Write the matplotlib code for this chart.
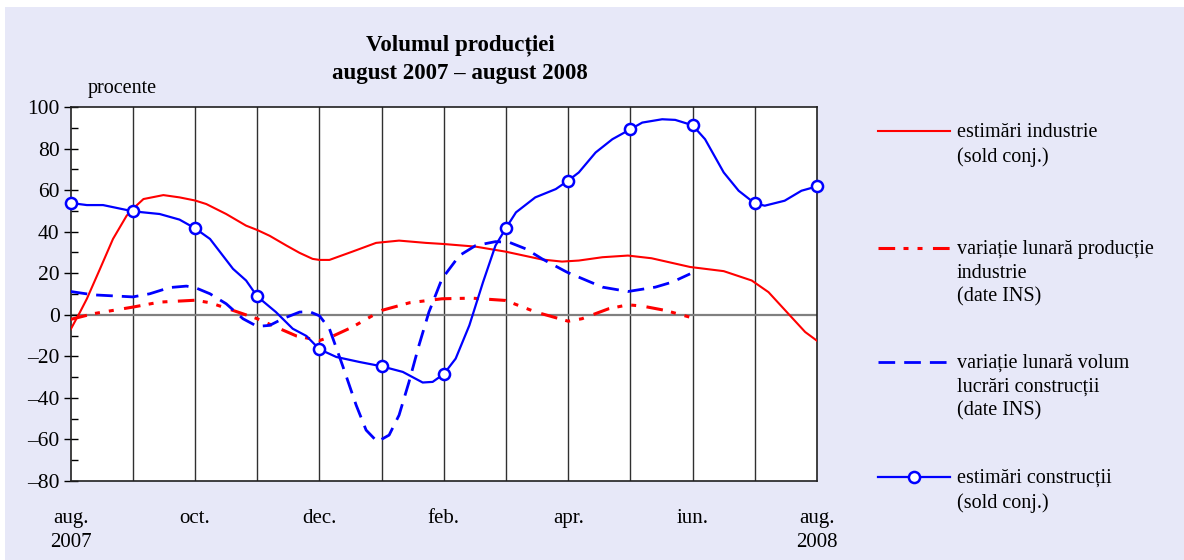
import matplotlib
matplotlib.use("Agg")
import matplotlib.pyplot as plt
from matplotlib.lines import Line2D
from matplotlib.patches import Rectangle
from matplotlib.ticker import MultipleLocator

plt.rcParams['font.family'] = ['Liberation Serif', 'DejaVu Serif']
plt.rcParams['lines.scale_dashes'] = False

# ---- data (x = months since Aug 2007) ----
tick_labels = ["aug.\n2007", "oct.", "dec.", "feb.", "apr.", "iun.", "aug.\n2008"]
tick_pos = [0, 2, 4, 6, 8, 10, 12]

ind_est_t = [0, 0.15, 0.26, 0.47, 0.68, 0.9, 1.0, 1.17, 1.49, 1.75, 2.0, 2.18, 2.5, 2.82, 3.0,
             3.2, 3.47, 3.68, 3.89, 4.0, 4.16, 4.53, 4.91, 5.28, 5.71, 5.98, 6.51, 6.99,
             7.58, 7.9, 8.17, 8.55, 8.96, 9.34, 9.96, 10.5, 10.95, 11.22, 11.49, 11.81, 12.0]
ind_est_v = [-7, 1.3, 7.7, 22, 36.5, 47.7, 51, 55.7, 57.6, 56.5, 55, 53.3, 48.5, 42.9, 40.8,
             38, 33.3, 29.8, 26.9, 26.4, 26.4, 30.4, 34.6, 35.7, 34.6, 34.1, 32.8, 30.4,
             26.6, 25.6, 26.1, 27.7, 28.5, 27.2, 23, 21, 16.5, 10.9, 2.1, -8.3, -12.5]

ind_var_t = [0, 0.36, 1.0, 1.43, 2.0, 2.24, 2.61, 3.0, 3.3, 3.63, 4.0, 4.22, 4.53, 5.0, 5.45,
             5.97, 6.45, 6.99, 7.48, 8.0, 8.22, 8.65, 8.96, 9.19, 9.56, 9.95]
ind_var_v = [-2.2, 0.5, 3.7, 6.1, 7.0, 5.8, 2.1, -1.9, -5.9, -10.2, -12.4, -10.2, -5.9, 2.1, 5.8,
             7.7, 8.0, 6.9, 1.3, -3.1, -1.9, 2.9, 4.8, 4.2, 2.1, -1.1]

con_var_t = [0, 0.36, 1.0, 1.27, 1.59, 1.86, 2.0, 2.24, 2.5, 2.77, 3.0, 3.2, 3.41, 3.68, 3.84,
             4.0, 4.16, 4.37, 4.59, 4.75, 4.93, 5.12, 5.28, 5.44, 5.6, 5.76, 5.97, 6.25,
             6.51, 6.83, 7.05, 7.32, 7.58, 7.98, 8.17, 8.55, 8.96, 9.4, 9.67, 9.96]
con_var_v = [11.2, 9.6, 8.6, 10.1, 13.1, 13.8, 13.1, 10.1, 5.3, -1.9, -5.6, -5.1, -1.9, 1.3, 1.5,
             -0.5, -6.7, -24.3, -43.5, -55.5, -61.1, -57.9, -48.3, -32.3, -14.7, 1.3, 17.3, 28.5,
             33.3, 35.2, 34.9, 31.7, 26.9, 20.5, 18.1, 13.3, 11.2, 13.3, 15.7, 19.7]

con_est_t = [0, 0.26, 0.52, 1.0, 1.43, 1.75, 2.0, 2.24, 2.61, 2.82, 3.0, 3.3, 3.57, 3.79, 4.0,
             4.27, 4.64, 5.0, 5.34, 5.66, 5.82, 6.0, 6.19, 6.41, 6.63, 6.83, 7.0, 7.16, 7.47,
             7.8, 8.0, 8.17, 8.44, 8.71, 9.0, 9.19, 9.51, 9.72, 10.0, 10.2, 10.5, 10.74, 11.0,
             11.16, 11.48, 11.75, 12.0]
con_est_v = [53.8, 52.8, 52.8, 49.8, 48.5, 45.8, 41.6, 36.5, 22.1, 16.5, 8.8, 1.3, -6.7, -10.2,
             -16.6, -20.3, -22.7, -24.8, -27.5, -32.6, -32.3, -28.5, -21.1, -5.1, 15.7, 33.3,
             41.8, 49.3, 56.5, 60.5, 64.6, 68.5, 78.1, 84.5, 89.3, 92.5, 94.1, 93.8, 91.2, 84.5,
             68.5, 59.7, 53.6, 52.5, 54.9, 59.7, 61.8]
con_est_marker_idx = [0, 3, 6, 10, 14, 17, 21, 26, 30, 34, 38, 42, 46]

legend_labels = ["estimări industrie\n(sold conj.)",
                 "variație lunară producție\nindustrie\n(date INS)",
                 "variație lunară volum\nlucrări construcții\n(date INS)",
                 "estimări construcții\n(sold conj.)"]

W, H = 1184, 560
fig = plt.figure(figsize=(W / 100, H / 100), dpi=100)
fig.patch.set_facecolor('white')
fig.add_artist(Rectangle((5 / W, 0), 1 - 5 / W, 1 - 7 / H, transform=fig.transFigure,
                         facecolor='#e7e8f8', edgecolor='none', zorder=-10))

ax = fig.add_axes([70.7 / W, 1 - 481 / H, (817 - 70.7) / W, (481 - 107) / H])
ax.set_facecolor('white')
ax.set_xlim(0, 12)
ax.set_ylim(-80, 100)

for m in range(1, 12):
    ax.axvline(m, color='#303030', lw=1.0, zorder=1)
ax.axhline(0, color='#808080', lw=1.6, zorder=1)

RED = '#ff0000'
BLUE = '#0000ff'
dashdotdot = (0, (12, 6, 3.6, 6.5, 3.6, 7.5))
dashed = (0, (12, 6.5))

ax.plot(ind_est_t, ind_est_v, color=RED, lw=1.5, zorder=3)
ax.plot(ind_var_t, ind_var_v, color=RED, lw=2.2, linestyle=dashdotdot, zorder=3)
ax.plot(con_var_t, con_var_v, color=BLUE, lw=2.0, linestyle=dashed, zorder=3)
ax.plot(con_est_t, con_est_v, color=BLUE, lw=1.6, marker='o', markevery=con_est_marker_idx,
        markersize=8, markerfacecolor='white', markeredgecolor=BLUE, markeredgewidth=1.8,
        zorder=4, clip_on=False)

ax.yaxis.set_major_locator(MultipleLocator(20))
ax.yaxis.set_minor_locator(MultipleLocator(10))
ax.tick_params(axis='y', which='major', direction='inout', length=10, width=1, labelsize=15.5, pad=3)
ax.tick_params(axis='y', which='minor', direction='in', length=5, width=1)
ax.set_yticks(range(-80, 101, 20))
ax.set_yticklabels([f"{v}" if v >= 0 else f"\u2013{abs(v)}" for v in range(-80, 101, 20)])
ax.set_xticks(tick_pos)
ax.set_xticklabels(tick_labels, fontsize=15, linespacing=1.4, va='top')
ax.tick_params(axis='x', length=0, pad=20)
for s in ax.spines.values():
    s.set_color('#202020')
    s.set_linewidth(1.2)

fig.text(460 / W, 1 - 45 / H, "Volumul producției", ha='center', va='center',
         fontsize=16.5, fontweight='bold')
fig.text(460 / W, 1 - 73 / H, "august 2007 – august 2008", ha='center', va='center',
         fontsize=16.5, fontweight='bold')
fig.text(88 / W, 1 - 89 / H, "procente", ha='left', va='center', fontsize=14.5)

# legend (manual)
leg_y = [131, 248, 362, 477]
styles = [dict(color=RED, lw=1.5),
          dict(color=RED, lw=2.2, linestyle=dashdotdot),
          dict(color=BLUE, lw=2.0, linestyle=dashed),
          dict(color=BLUE, lw=1.6)]
for y, lab, st in zip(leg_y, legend_labels, styles):
    fy = 1 - y / H
    fig.add_artist(Line2D([878 / W, 950 / W], [fy, fy], transform=fig.transFigure, **st))
    fig.text(957 / W, fy + 8 / H, lab, ha='left', va='top', fontsize=14.5, linespacing=1.33)
fig.add_artist(Line2D([914 / W], [1 - 477 / H], transform=fig.transFigure, marker='o',
                      markersize=8, markerfacecolor='white', markeredgecolor=BLUE,
                      markeredgewidth=1.8, linestyle='none'))

fig.savefig("out.png", dpi=100)
